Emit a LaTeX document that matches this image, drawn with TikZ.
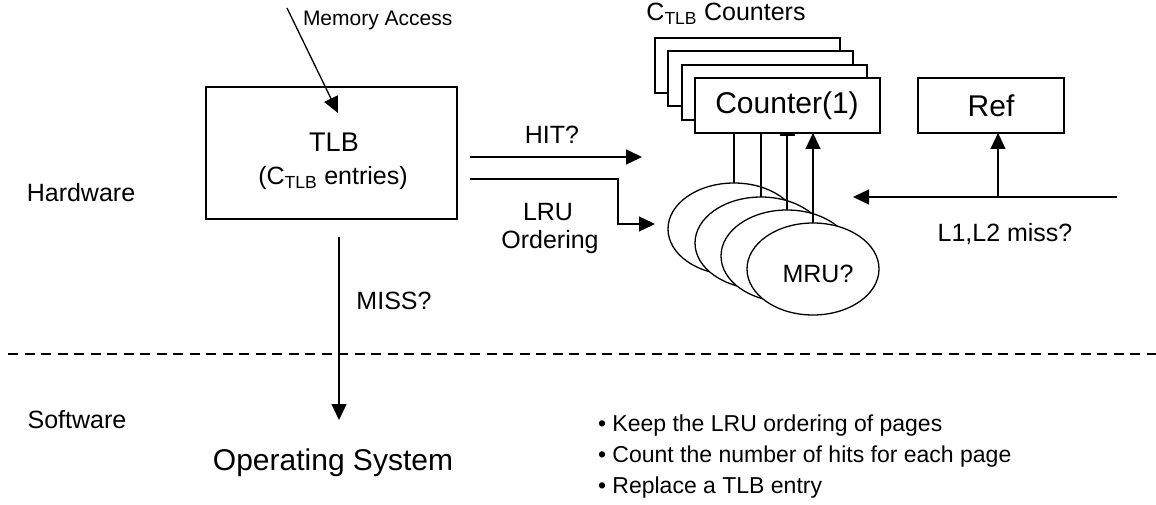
\documentclass[tikz,border=0pt]{standalone}
\usepackage{fontspec}
\setmainfont{Liberation Sans}
\usetikzlibrary{arrows.meta,shapes.geometric}
\newcommand\ctlb{C\textsubscript{TLB}}
\begin{document}
\begin{tikzpicture}[x=1pt,y=-1pt,line width=1.3pt,
  every node/.style={inner sep=0pt,outer sep=0pt},
  lbl/.style={font=\fontsize{25}{30}\selectfont},
  big/.style={font=\fontsize{30}{36}\selectfont},
  small/.style={font=\fontsize{21}{25}\selectfont},
  bul/.style={font=\fontsize{23}{28}\selectfont,anchor=west},
  arr/.style={-{Triangle[length=16pt,width=15pt]}},
  cbox/.style={draw,fill=white,minimum width=185pt,minimum height=55pt},
  ell/.style={draw,fill=white,ellipse,minimum width=132pt,minimum height=92pt}]
\useasboundingbox (0,0) rectangle (1156,505);

% TLB
\node[draw,minimum width=251pt,minimum height=132pt] (tlb) at (331.5,153) {};
\node[font=\fontsize{27}{32}\selectfont] (tlbt) at (334,142) {TLB};
\node[lbl] (tlbe) at (333,178) {(\ctlb{} entries)};

% memory access
\coordinate (ma0) at (287,8);
\coordinate (ma1) at (338,113);
\draw[arr] (ma0) -- (ma1);
\node[small,anchor=base west] (mat) at (303,26) {Memory Access};

% side labels
\node[lbl] (hw) at (81,193) {Hardware};
\node[lbl] (sw) at (77,420) {Software};

% counters
\node[lbl] (ct) at (726,14) {\ctlb{} Counters};
\node[cbox] (c1) at (747.5,65.5) {};
\node[cbox] (c2) at (760.5,78.5) {};
\node[cbox] (c3) at (774.5,92.5) {};
\node[cbox] (c4) at (787.5,105.5) {};
\node[big] (c4t) at (787,106) {Counter(1)};

% ref
\node[draw,minimum width=146pt,minimum height=55pt] (ref) at (991,105.5) {};
\node[big] (reft) at (991,106) {Ref};

% ellipses
\node[ell] (e1) at (734,229) {};
\node[ell] (e2) at (761,243) {};
\node[ell] (e3) at (787,256) {};
\node[ell] (e4) at (813,269) {};
\node[lbl] (mru) at (818,274) {MRU?};

% lines ellipses -> counter
\draw (e1.north) -- (e1.north |- c4.south);
\draw (e2.north) -- (e2.north |- c4.south);
\draw (e3.north) -- (e3.north |- c4.south);
\draw[line width=2.5pt] (780,134.5) -- (795,134.5);
\draw[arr] (e4.north) -- (e4.north |- c4.south);

% HIT / LRU
\coordinate (h0) at (470,157);
\coordinate (h1) at (642,157);
\draw[arr] (h0) -- (h1);
\node[lbl] (hit) at (552,135) {HIT?};
\coordinate (l0) at (470,179);
\coordinate (l1) at (618,179);
\coordinate (l2) at (618,224);
\coordinate (l3) at (655,224);
\draw[arr] (l0) -- (l1) -- (l2) -- (l3);
\node[lbl] (lru) at (548,212) {LRU};
\node[lbl] (ord) at (550,242) {Ordering};

% L1,L2 miss
\coordinate (m0) at (1117,197);
\coordinate (m1) at (853,197);
\coordinate (mr) at (998,197);
\draw[arr] (m0) -- (m1);
\draw[arr] (mr) -- (mr |- ref.south);
\node[lbl] (l12) at (1005,234) {L1,L2 miss?};

% MISS
\coordinate (s0) at (339,237);
\coordinate (s1) at (339,420);
\draw[arr] (s0) -- (s1);
\node[lbl] (miss) at (394,301) {MISS?};

% divider
\coordinate (d0) at (8,354);
\coordinate (d1) at (1156,354);
\draw[dash pattern=on 10pt off 6.5pt] (d0) -- (d1);

% OS
\node[font=\fontsize{30}{36}\selectfont] (os) at (333,463) {Operating System};
\node[bul] (b1) at (598,426) {• Keep the LRU ordering of pages};
\node[bul] (b2) at (598,457) {• Count the number of hits for each page};
\node[bul] (b3) at (598,488) {• Replace a TLB entry};
\end{tikzpicture}
\end{document}
